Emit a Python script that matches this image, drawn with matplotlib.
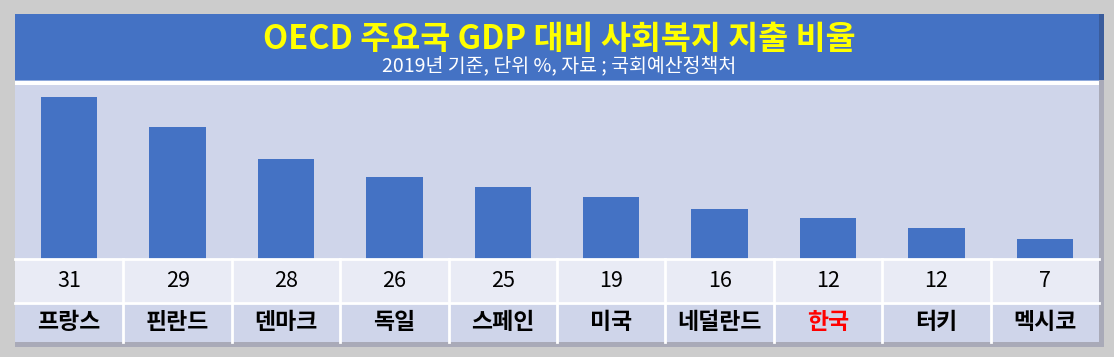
import matplotlib
matplotlib.use('Agg')
import matplotlib.pyplot as plt
from matplotlib.patches import Rectangle

plt.rcParams['font.family'] = ['Noto Sans CJK KR', 'DejaVu Sans']

# 데이터
countries = ['프랑스', '핀란드', '덴마크', '독일', '스페인', '미국', '네덜란드', '한국', '터키', '멕시코']
values = [31, 29, 28, 26, 25, 19, 16, 12, 12, 7]
# 원본 그림에서 막대 길이는 표의 숫자와 비례하지 않음 -> 그림에서 읽은 길이 (0~35 눈금)
bar_len = [32.6, 26.6, 20.1, 16.5, 14.5, 12.5, 10.1, 8.2, 6.2, 4.0]
highlight = '한국'

title = 'OECD 주요국 GDP 대비 사회복지 지출 비율'
subtitle = '2019년 기준, 단위 %, 자료 ; 국회예산정책처'

W, H = 1114, 357
fig = plt.figure(figsize=(W / 100, H / 100), dpi=100)
fig.patch.set_facecolor('#CCCCCC')


def box(x0, y0, x1, y1):
    # 픽셀 좌표(위에서 아래) -> figure 좌표
    return [x0 / W, 1 - y1 / H, (x1 - x0) / W, (y1 - y0) / H]


def rect(x0, y0, x1, y1, color, z=0):
    l, b, w, h = box(x0, y0, x1, y1)
    fig.add_artist(Rectangle((l, b), w, h, transform=fig.transFigure,
                             facecolor=color, edgecolor='none', zorder=z))


# 그림자 + 제목 바
rect(15, 14, 1104, 347, '#A9AAB8', z=0)
rect(15, 14, 1104, 80, '#3A5C9C', z=0)
rect(15, 14, 1099, 80, '#4472C4', z=1)
rect(15, 80, 1099, 81, '#8FAADC', z=1)
rect(15, 81, 1099, 85, '#FFFFFF', z=1)

fig.text(559 / W, 1 - 39 / H, title, ha='center', va='center',
         fontsize=23.5, fontweight='bold', color='#FFFF00', zorder=3)
fig.text(559 / W, 1 - 66 / H, subtitle, ha='center', va='center',
         fontsize=14, color='white', zorder=3)

# 막대 그래프
ax = fig.add_axes(box(15, 85, 1099, 259))
ax.set_facecolor('#CFD5EA')
x = range(len(countries))
ax.bar(x, bar_len, width=0.52, color='#4472C4')
ax.set_xlim(-0.5, len(countries) - 0.5)
ax.set_ylim(0, 35)
ax.set_xticks([])
ax.set_yticks([])
for s in ax.spines.values():
    s.set_visible(False)

# 아래 표 (값 행 44px, 이름 행 39px)
tax = fig.add_axes(box(15, 259, 1099, 342))
tax.axis('off')
tbl = tax.table(cellText=[[str(v) for v in values], countries],
                bbox=[0, 0, 1, 1], cellLoc='center')
tbl.auto_set_font_size(False)
for (r, c), cell in tbl.get_celld().items():
    cell.set_linewidth(0)
    cell.set_height(44 if r == 0 else 39)
    if r == 0:
        cell.set_facecolor('#E9EBF5')
        cell.set_edgecolor('#E9EBF5')
        cell.get_text().set_fontsize(15.5)
    else:
        cell.set_facecolor('#CFD5EA')
        cell.set_edgecolor('#CFD5EA')
        cell.get_text().set_fontsize(16.5)
        cell.get_text().set_fontweight('bold')
        if countries[c] == highlight:
            cell.get_text().set_color('#FF0000')

# 흰색 구분선
n = len(countries)
for c in range(1, n):
    tax.plot([c / n, c / n], [0, 1], color='white', lw=2,
             transform=tax.transAxes, clip_on=False, zorder=5)
for yy in (1.0, 39 / 83):
    tax.plot([0, 1], [yy, yy], color='white', lw=2,
             transform=tax.transAxes, clip_on=False, zorder=5)

fig.savefig('out.png', dpi=100, facecolor=fig.get_facecolor())
